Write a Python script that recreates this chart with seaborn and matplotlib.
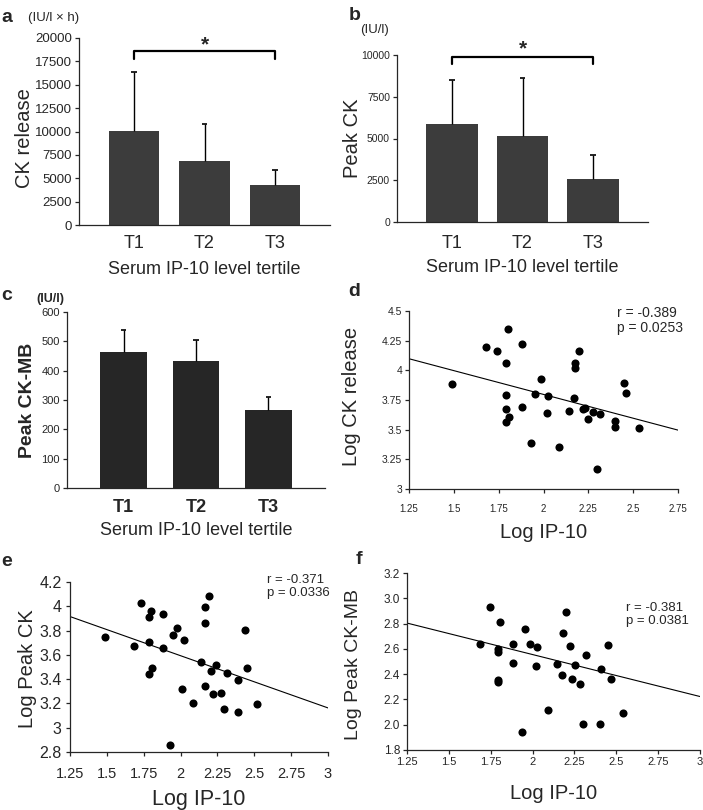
import numpy as np
import pandas as pd
import matplotlib
matplotlib.use("Agg")
import matplotlib.pyplot as plt
import seaborn as sns

# ---------------- data ----------------
tertiles = ["T1", "T2", "T3"]

ck_release_mean = [10100, 6850, 4270]
ck_release_sd = [6250, 3930, 1630]

peak_ck_mean = [5840, 5140, 2600]
peak_ck_sd = [2660, 3500, 1420]

peak_ckmb_mean = [464, 432, 267]
peak_ckmb_sd = [74, 72, 42]

d_log_ip10 = [1.49, 1.681, 1.739, 1.802, 1.791, 1.791, 1.791, 1.809, 1.791, 1.88, 1.88,
              1.932, 1.953, 1.984, 2.027, 2.021, 2.088, 2.14, 2.172, 2.176, 2.178, 2.198,
              2.22, 2.231, 2.25, 2.276, 2.317, 2.30, 2.40, 2.397, 2.447, 2.462, 2.531]
d_log_ck_release = [3.888, 4.194, 4.166, 4.351, 4.065, 3.789, 3.674, 3.61, 3.562, 4.219, 3.694,
                    3.39, 3.803, 3.927, 3.784, 3.64, 3.354, 3.657, 3.764, 4.022, 4.065, 4.163,
                    3.671, 3.685, 3.587, 3.652, 3.632, 3.171, 3.57, 3.522, 3.89, 3.812, 3.517]

e_log_ip10 = [1.489, 1.681, 1.733, 1.801, 1.787, 1.787, 1.808, 1.787, 1.878, 1.878, 1.927,
              1.95, 1.975, 2.022, 2.013, 2.081, 2.137, 2.167, 2.167, 2.167, 2.192, 2.207,
              2.239, 2.221, 2.271, 2.313, 2.293, 2.388, 2.388, 2.438, 2.453, 2.519]
e_log_peak_ck = [3.748, 3.674, 4.029, 3.96, 3.913, 3.704, 3.492, 3.442, 3.938, 3.657, 2.861,
                 3.767, 3.82, 3.723, 3.321, 3.205, 3.541, 3.996, 3.866, 3.343, 4.087, 3.467,
                 3.516, 3.277, 3.285, 3.448, 3.153, 3.395, 3.131, 3.803, 3.492, 3.197]

f_log_ip10 = [1.685, 1.744, 1.806, 1.794, 1.794, 1.794, 1.794, 1.884, 1.884, 1.934, 1.956,
              1.985, 2.027, 2.023, 2.093, 2.143, 2.177, 2.181, 2.201, 2.221, 2.235, 2.253,
              2.281, 2.322, 2.304, 2.406, 2.402, 2.45, 2.466, 2.538]
f_log_peak_ckmb = [2.637, 2.93, 2.812, 2.598, 2.579, 2.355, 2.336, 2.637, 2.492, 1.94, 2.759,
                   2.637, 2.611, 2.463, 2.117, 2.479, 2.392, 2.724, 2.894, 2.619, 2.36, 2.471,
                   2.323, 2.553, 2.009, 2.444, 2.009, 2.632, 2.36, 2.091]

# regression lines as printed in the figure (intercept, slope)
d_fit = (4.599, -0.401)
e_fit = (4.453, -0.430)
f_fit = (3.219, -0.332)

d_stats = "r = -0.389\np = 0.0253"
e_stats = "r = -0.371\np = 0.0336"
f_stats = "r = -0.381\np = 0.0381"

# ---------------- style ----------------
sns.set_style("ticks")
plt.rcParams["font.family"] = ["Liberation Sans", "DejaVu Sans"]
plt.rcParams["axes.linewidth"] = 0.9

W, H = 703, 810
fig = plt.figure(figsize=(W / 100, H / 100), dpi=100)


def rect(L, T, R, B):
    return [L / W, 1 - B / H, (R - L) / W, (B - T) / H]


def place_labels(ax, box, xlabel, xl_top, ylabel, yl_right, yl_center, xfs, yfs,
                 xweight="normal", yweight="normal"):
    L, T, R, B = box
    ax.set_xlabel(xlabel, fontsize=xfs, fontweight=xweight)
    ax.set_ylabel(ylabel, fontsize=yfs, fontweight=yweight)
    ax.xaxis.set_label_coords((0.5), -(xl_top - B) / (B - T))
    ax.yaxis.set_label_coords((yl_right - L) / (R - L), (B - yl_center) / (B - T))


def figtext(x, y, s, **kw):
    fig.text(x / W, 1 - y / H, s, **kw)


def bar_panel(box, means, sds, color, width, ylim, yticks, ytick_fs, xtick_fs,
              xtick_weight="normal", xpad=7):
    ax = fig.add_axes(rect(*box))
    df = pd.DataFrame({"tertile": tertiles, "value": means})
    sns.barplot(data=df, x="tertile", y="value", ax=ax, color=color, saturation=1,
                width=width, errorbar=None, linewidth=0)
    xs = np.arange(len(means))
    tops = np.array(means) + np.array(sds)
    ax.vlines(xs, means, tops, color="black", lw=1.0, zorder=3)
    ax.hlines(tops, xs - 0.04, xs + 0.04, color="black", lw=1.2, zorder=3)
    ax.set_xlim(-0.78, 2.78)
    ax.set_ylim(*ylim)
    ax.set_yticks(yticks)
    ax.tick_params(axis="y", length=3, width=0.9, labelsize=ytick_fs, pad=2)
    ax.tick_params(axis="x", length=0, labelsize=xtick_fs, pad=xpad)
    for t in ax.get_xticklabels():
        t.set_fontweight(xtick_weight)
    sns.despine(ax=ax)
    return ax


# ---------------- panel a ----------------
box_a = (79, 38, 330, 225)
ax_a = bar_panel(box_a, ck_release_mean, ck_release_sd, "#3c3c3c", 0.72,
                 (0, 20000), np.arange(0, 20001, 2500), 9.5, 13, xpad=7)
ax_a.plot([0, 0, 2, 2], [17800, 18600, 18600, 17800], color="black", lw=1.6,
          clip_on=False)
ax_a.text(1, 19300, "*", ha="center", va="center", fontsize=15, fontweight="bold")
place_labels(ax_a, box_a, "Serum IP-10 level tertile", 261, "CK release", 34, 138, 13, 14.5)
figtext(54, 18, "(IU/l \u00d7 h)", fontsize=9.5, ha="center", va="center")
figtext(7, 18, "a", fontsize=14, fontweight="bold", ha="center", va="center")

# ---------------- panel b ----------------
box_b = (397, 55, 648, 222)
ax_b = bar_panel(box_b, peak_ck_mean, peak_ck_sd, "#3c3c3c", 0.73,
                 (0, 10000), np.arange(0, 10001, 2500), 7.5, 13, xpad=9)
ax_b.plot([0, 0, 2, 2], [9450, 9880, 9880, 9450], color="black", lw=1.6, clip_on=False)
ax_b.text(1, 10350, "*", ha="center", va="center", fontsize=15, fontweight="bold")
place_labels(ax_b, box_b, "Serum IP-10 level tertile", 259, "Peak CK", 362, 138, 13, 14.5)
figtext(375, 30, "(IU/l)", fontsize=9.5, ha="center", va="center")
figtext(355, 16, "b", fontsize=14, fontweight="bold", ha="center", va="center")

# ---------------- panel c ----------------
box_c = (67, 312, 325, 488)
ax_c = bar_panel(box_c, peak_ckmb_mean, peak_ckmb_sd, "#262626", 0.64,
                 (0, 600), np.arange(0, 601, 100), 8, 13, xtick_weight="bold", xpad=8)
place_labels(ax_c, box_c, "Serum IP-10 level tertile", 522, "Peak CK-MB", 36, 400, 13, 14,
             yweight="bold")
figtext(50, 299, "(IU/l)", fontsize=9, fontweight="bold", ha="center", va="center")
figtext(7, 295, "c", fontsize=14, fontweight="bold", ha="center", va="center")


# ---------------- scatter panels ----------------
def scatter_panel(box, x, y, fit, xlim, xticks, xlabels, ylim, yticks, ylabels,
                  xt_fs, yt_fs, xpad, ypad):
    ax = fig.add_axes(rect(*box))
    ax.set_xlim(*xlim)
    ax.set_ylim(*ylim)
    sns.regplot(x=np.array(x), y=np.array(y), ax=ax, fit_reg=False,
                color="black", scatter_kws=dict(s=34, linewidths=0, alpha=1))
    ax.axline((0, fit[0]), slope=fit[1], color="black", lw=0.8)
    ax.set_xlim(*xlim)
    ax.set_ylim(*ylim)
    ax.set_xticks(xticks)
    ax.set_xticklabels(xlabels)
    ax.set_yticks(yticks)
    ax.set_yticklabels(ylabels)
    ax.tick_params(axis="x", length=3, width=0.9, labelsize=xt_fs, pad=xpad)
    ax.tick_params(axis="y", length=3, width=0.9, labelsize=yt_fs, pad=ypad)
    sns.despine(ax=ax)
    return ax


box_d = (409, 311, 678, 489)
ax_d = scatter_panel(box_d, d_log_ip10, d_log_ck_release, d_fit,
                     (1.25, 2.75), [1.25, 1.5, 1.75, 2, 2.25, 2.5, 2.75],
                     ["1.25", "1.5", "1.75", "2", "2.25", "2.5", "2.75"],
                     (3, 4.5), [3, 3.25, 3.5, 3.75, 4, 4.25, 4.5],
                     ["3", "3.25", "3.5", "3.75", "4", "4.25", "4.5"],
                     7, 7.5, 8, 2)
place_labels(ax_d, box_d, "Log IP-10", 523, "Log CK release", 361, 396, 14.5, 14.5)
figtext(617, 306, d_stats, fontsize=10, ha="left", va="top", linespacing=1.1)
figtext(354, 291, "d", fontsize=14, fontweight="bold", ha="center", va="center")

box_e = (70, 582, 328, 752)
ax_e = scatter_panel(box_e, e_log_ip10, e_log_peak_ck, e_fit,
                     (1.25, 3), [1.25, 1.5, 1.75, 2, 2.25, 2.5, 2.75, 3],
                     ["1.25", "1.5", "1.75", "2", "2.25", "2.5", "2.75", "3"],
                     (2.8, 4.2), [2.8, 3.0, 3.2, 3.4, 3.6, 3.8, 4.0, 4.2],
                     ["2.8", "3", "3.2", "3.4", "3.6", "3.8", "4", "4.2"],
                     10.5, 11.5, 8, 3)
place_labels(ax_e, box_e, "Log IP-10", 789, "Log Peak CK", 37, 669, 15.5, 14.5)
figtext(267, 574, e_stats, fontsize=9.5, ha="left", va="top", linespacing=1.15)
figtext(7, 562, "e", fontsize=14, fontweight="bold", ha="center", va="center")

box_f = (407, 573, 700, 750)
ax_f = scatter_panel(box_f, f_log_ip10, f_log_peak_ckmb, f_fit,
                     (1.25, 3), [1.25, 1.5, 1.75, 2, 2.25, 2.5, 2.75, 3],
                     ["1.25", "1.5", "1.75", "2", "2.25", "2.5", "2.75", "3"],
                     (1.8, 3.2), [1.8, 2.0, 2.2, 2.4, 2.6, 2.8, 3.0, 3.2],
                     ["1.8", "2.0", "2.2", "2.4", "2.6", "2.8", "3.0", "3.2"],
                     8, 8.5, 2, 2)
place_labels(ax_f, box_f, "Log IP-10", 784, "Log Peak CK-MB", 362, 665, 14.5, 14)
figtext(626, 602, f_stats, fontsize=9.5, ha="left", va="top", linespacing=1.15)
figtext(359, 560, "f", fontsize=14, fontweight="bold", ha="center", va="center")

fig.savefig("out.png", dpi=100)
